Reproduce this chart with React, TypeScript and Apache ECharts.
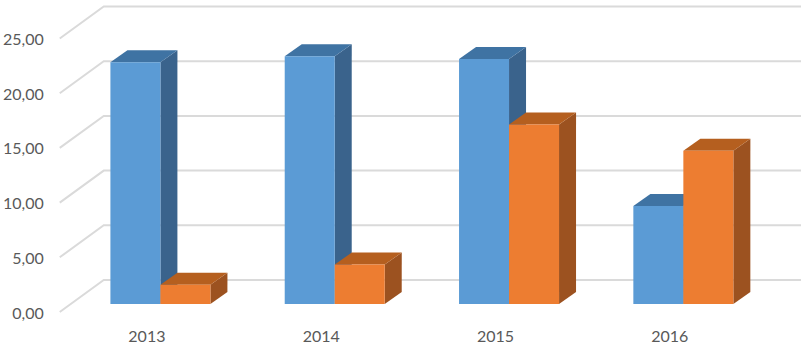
import React, { useEffect, useRef } from "react";
import * as echarts from "echarts";

const categories = ["2013", "2014", "2015", "2016"];
const seriesA = [22.1, 22.65, 22.4, 8.95];
const seriesB = [1.75, 3.6, 16.4, 14.0];
const yTicks = [0, 5, 10, 15, 20, 25];

const wallDepth = { dx: 44, dy: -32 };
const barPlane = { dx: 13.5, dy: -8 };
const barDepth = { dx: 17, dy: -12 };
const barWidth = 50;

const gridColor = "#dadada";
const textColor = "#595959";
const fontFamily = "Lato";

function wallRender(params: any, api: any) {
  const cs = params.coordSys;
  const y = api.coord([0, api.value(1)])[1];
  const x0 = cs.x;
  const style = { stroke: gridColor, lineWidth: 2, fill: "none" };
  return {
    type: "polyline",
    silent: true,
    shape: {
      points: [
        [x0, y],
        [x0 + wallDepth.dx, y + wallDepth.dy],
        [x0 + cs.width + wallDepth.dx, y + wallDepth.dy],
      ],
    },
    style,
  };
}

function barRender(side: -1 | 1, front: string, top: string, flank: string) {
  return (_params: any, api: any) => {
    const idx = api.value(0);
    const val = api.value(1);
    const [cx, yTop0] = api.coord([idx, val]);
    const yBase0 = api.coord([idx, 0])[1];
    const xl = cx + barPlane.dx + (side < 0 ? -barWidth : 0);
    const xr = xl + barWidth;
    const yt = yTop0 + barPlane.dy;
    const yb = yBase0 + barPlane.dy;
    const { dx, dy } = barDepth;
    return {
      type: "group",
      silent: true,
      children: [
        {
          type: "polygon",
          shape: { points: [[xr, yt], [xr + dx, yt + dy], [xr + dx, yb + dy], [xr, yb]] },
          style: { fill: flank },
        },
        {
          type: "polygon",
          shape: { points: [[xl, yt], [xl + dx, yt + dy], [xr + dx, yt + dy], [xr, yt]] },
          style: { fill: top },
        },
        {
          type: "rect",
          shape: { x: xl, y: yt, width: barWidth, height: yb - yt },
          style: { fill: front },
        },
      ],
    };
  };
}

export default function App() {
  const ref = useRef<HTMLDivElement>(null);
  useEffect(() => {
    const chart = echarts.init(ref.current!, null, { renderer: "svg" });
    chart.setOption({
      animation: false,
      backgroundColor: "#ffffff",
      grid: { left: 58, top: 38.5, width: 699, height: 275, containLabel: false },
      xAxis: {
        type: "category",
        data: categories,
        axisLine: { show: false },
        axisTick: { show: false },
        splitLine: { show: false },
        axisLabel: { color: textColor, fontFamily, fontSize: 16, margin: 15 },
      },
      yAxis: {
        type: "value",
        min: 0,
        max: 25,
        interval: 5,
        axisLine: { show: false },
        axisTick: { show: false },
        splitLine: { show: false },
        axisLabel: {
          color: textColor,
          fontFamily,
          fontSize: 16,
          margin: 16,
          formatter: (v: number) => v.toFixed(2).replace(".", ","),
        },
      },
      series: [
        {
          type: "custom",
          clip: false,
          z: 1,
          renderItem: wallRender,
          data: yTicks.map((v) => [0, v]),
          encode: { x: 0, y: 1 },
        },
        {
          type: "custom",
          clip: false,
          z: 2,
          renderItem: barRender(-1, "#5b9bd5", "#3f73a3", "#3a638c"),
          data: seriesA.map((v, i) => [i, v]),
          encode: { x: 0, y: 1 },
        },
        {
          type: "custom",
          clip: false,
          z: 3,
          renderItem: barRender(1, "#ed7d31", "#b55f1f", "#9c5220"),
          data: seriesB.map((v, i) => [i, v]),
          encode: { x: 0, y: 1 },
        },
      ],
    });
    return () => chart.dispose();
  }, []);
  return <div ref={ref} style={{ position: "absolute", left: 0, top: 0, width: 806, height: 343 }} />;
}
